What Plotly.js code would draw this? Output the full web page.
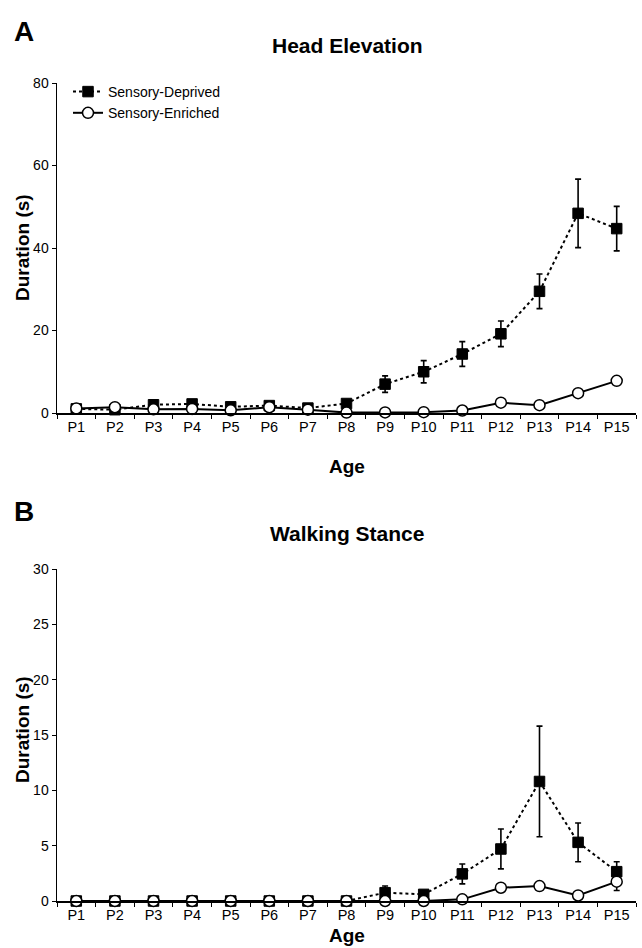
<!DOCTYPE html>
<html>
<head>
<meta charset="utf-8">
<script src="https://cdn.plot.ly/plotly-3.0.1.min.js"></script>
<style>html,body{margin:0;padding:0;background:#fff;}#chart{width:642px;height:948px;}</style>
</head>
<body>
<div id="chart"></div>
<script>
const categories = ["P1","P2","P3","P4","P5","P6","P7","P8","P9","P10","P11","P12","P13","P14","P15"];

const headDeprived    = [1.0, 0.8, 2.0, 2.2, 1.5, 1.8, 1.2, 2.3, 7.0, 10.0, 14.3, 19.2, 29.5, 48.4, 44.7];
const headDeprivedErr = [0.3, 0.3, 0.4, 0.4, 0.3, 0.3, 0.3, 0.5, 2.0, 2.7, 3.0, 3.1, 4.2, 8.3, 5.4];
const headEnriched    = [1.1, 1.4, 0.9, 1.0, 0.65, 1.4, 0.8, 0.1, 0.15, 0.2, 0.6, 2.5, 1.9, 4.8, 7.8];
const headEnrichedErr = [0.2, 0.2, 0.2, 0.2, 0.2, 0.2, 0.2, 0.1, 0.1, 0.1, 0.2, 0.3, 0.3, 0.5, 1.0];

const walkDeprived    = [0, 0, 0, 0, 0, 0, 0, 0, 0.75, 0.6, 2.45, 4.7, 10.8, 5.3, 2.65];
const walkDeprivedErr = [0, 0, 0, 0, 0, 0, 0, 0, 0.6, 0.2, 0.9, 1.8, 5.0, 1.75, 0.9];
const walkEnriched    = [0, 0, 0, 0, 0, 0, 0, 0, 0, 0, 0.15, 1.2, 1.35, 0.5, 1.75];
const walkEnrichedErr = [0, 0, 0, 0, 0, 0, 0, 0, 0, 0, 0.1, 0.2, 0.35, 0.1, 0.8];

const FONT = "Liberation Sans, Arial, Helvetica, sans-serif";
const W = 642, H = 948;
const M = {l: 57, r: 6, t: 83, b: 47};
const PW = W - M.l - M.r, PH = H - M.t - M.b;
const px = x => (x - M.l) / PW;
const py = y => 1 - (y - M.t) / PH;

function depTrace(y, err, xa, ya, show) {
  return {
    x: categories, y: y, xaxis: xa, yaxis: ya,
    type: "scatter", mode: "lines+markers", name: "Sensory-Deprived",
    showlegend: show, cliponaxis: false,
    line: {color: "#000", width: 2, dash: "dot"},
    marker: {symbol: "square", size: 10.5, color: "#000", line: {color: "#000", width: 1}},
    error_y: {type: "data", array: err, visible: true, color: "#000", thickness: 1.6, width: 3}
  };
}
function enrTrace(y, err, xa, ya, show) {
  return {
    x: categories, y: y, xaxis: xa, yaxis: ya,
    type: "scatter", mode: "lines+markers", name: "Sensory-Enriched",
    showlegend: show, cliponaxis: false,
    line: {color: "#000", width: 2},
    marker: {symbol: "circle", size: 11, color: "#fff", line: {color: "#000", width: 1.5}},
    error_y: {type: "data", array: err, visible: true, color: "#000", thickness: 1.6, width: 3}
  };
}

const data = [
  depTrace(headDeprived, headDeprivedErr, "x", "y", true),
  enrTrace(headEnriched, headEnrichedErr, "x", "y", true),
  depTrace(walkDeprived, walkDeprivedErr, "x2", "y2", false),
  enrTrace(walkEnriched, walkEnrichedErr, "x2", "y2", false)
];

const xBase = {
  type: "category", range: [-0.5, 14.5], showline: true, linecolor: "#000", linewidth: 1.5,
  ticks: "outside", ticklen: 4, tickwidth: 1, tickcolor: "#000", tickson: "boundaries",
  tickfont: {family: FONT, size: 14.5, color: "#000"}, showgrid: false, zeroline: false,
  fixedrange: true
};
const yBase = {
  showline: true, linecolor: "#000", linewidth: 1.5, ticks: "outside", ticklen: 4,
  tickwidth: 1, tickcolor: "#000", tickfont: {family: FONT, size: 14, color: "#000"},
  showgrid: false, zeroline: false, fixedrange: true
};

const topDom = [py(413), 1];
const botDom = [0, py(569)];

const ann = (text, x, y, size, extra) => Object.assign({
  text: text, xref: "paper", yref: "paper", x: px(x), y: py(y),
  xanchor: "center", yanchor: "middle", showarrow: false,
  font: {family: FONT, size: size, color: "#000"}
}, extra || {});

const layout = {
  width: W, height: H, margin: M,
  paper_bgcolor: "#fff", plot_bgcolor: "#fff",
  font: {family: FONT, color: "#000"},
  showlegend: true,
  legend: {x: px(68), y: py(76), xanchor: "left", yanchor: "top", bgcolor: "rgba(0,0,0,0)",
           font: {family: FONT, size: 14, color: "#000"}, tracegroupgap: 0, itemwidth: 30},
  xaxis: Object.assign({}, xBase, {anchor: "y", domain: [0, 1]}),
  yaxis: Object.assign({}, yBase, {anchor: "x", domain: topDom, range: [0, 80], dtick: 20}),
  xaxis2: Object.assign({}, xBase, {anchor: "y2", domain: [0, 1]}),
  yaxis2: Object.assign({}, yBase, {anchor: "x2", domain: botDom, range: [0, 30], dtick: 5}),
  annotations: [
    ann("<b>A</b>", 24, 31, 28),
    ann("<b>Head Elevation</b>", 347, 45, 21),
    ann("<b>Age</b>", 347, 466, 19),
    ann("<b>Duration (s)</b>", 22, 248, 19, {textangle: -90}),
    ann("<b>B</b>", 24, 511, 28),
    ann("<b>Walking Stance</b>", 347, 533, 21),
    ann("<b>Age</b>", 347, 935, 19),
    ann("<b>Duration (s)</b>", 22, 730, 19, {textangle: -90})
  ]
};

Plotly.newPlot("chart", data, layout, {displayModeBar: false, staticPlot: true});
</script>
</body>
</html>
